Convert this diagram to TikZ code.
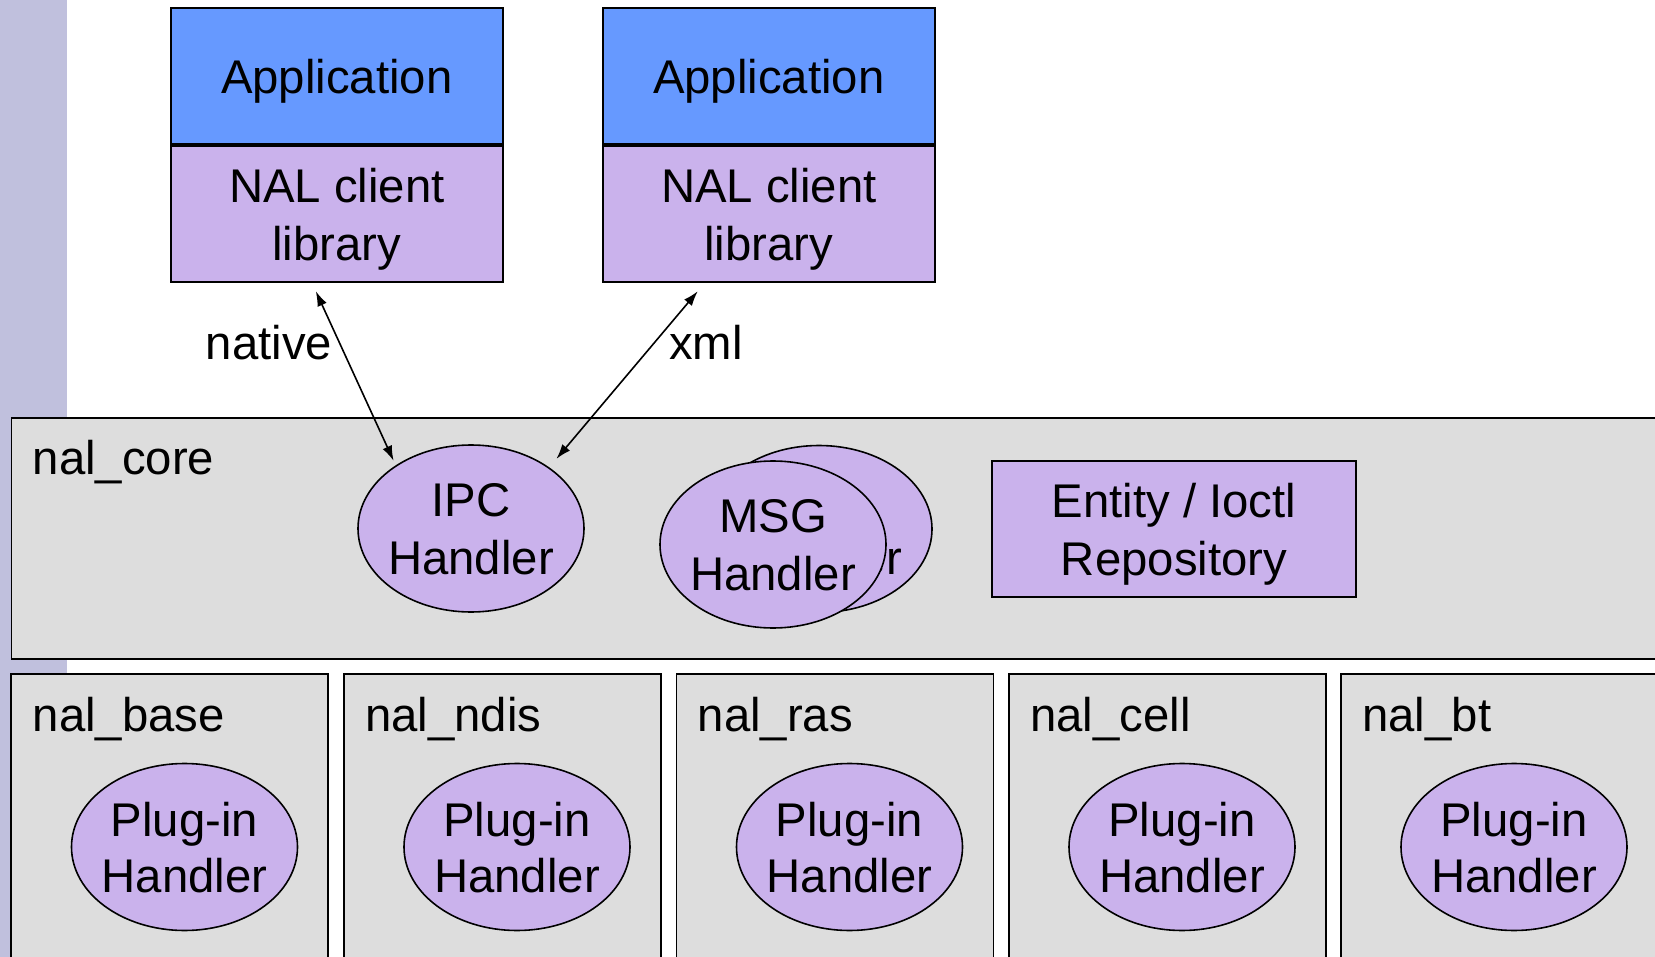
\documentclass[tikz,border=0pt]{standalone}
\usepackage{fontspec}
\setmainfont{Liberation Sans}
\usetikzlibrary{arrows.meta,calc,shapes.geometric}

\definecolor{appblue}{RGB}{102,153,255}
\definecolor{nalpurple}{RGB}{202,178,236}
\definecolor{coregray}{RGB}{221,221,221}
\definecolor{stripgray}{RGB}{192,192,221}

\tikzset{every picture/.style={line width=1.6pt}}
\tikzset{
  box/.style={draw, rectangle, inner sep=0pt, align=center, font=\fontsize{47.3}{58}\selectfont, text depth=0pt},
  layer/.style={draw, rectangle, fill=coregray, anchor=north west, inner sep=0pt},
  layerlabel/.style={anchor=base west, inner sep=0pt, font=\fontsize{47.3}{58}\selectfont},
  handler/.style={draw, ellipse, fill=nalpurple, minimum width=226pt, minimum height=167pt, inner sep=-12pt, text depth=-5pt, align=center, font=\fontsize{47.3}{58}\selectfont},
  plugin/.style={handler, font=\fontsize{47.3}{56}\selectfont},
  link/.style={{Latex[length=15pt,width=10pt]}-{Latex[length=15pt,width=10pt]}, line width=1.6pt},
}

\begin{document}
\begin{tikzpicture}[x=1pt,y=1pt,yscale=-1,xscale=1]
\useasboundingbox (0,0) rectangle (1655,957);
\clip (0,0) rectangle (1655,957);

%Shape: Rectangle (left strip)
\fill [stripgray] (0,0) rectangle (67,957);

%Shape: Rectangle
\node [box, fill=appblue, anchor=north west, minimum width=332pt, minimum height=136pt] (app1) at (170,7.5) {Application};
%Shape: Rectangle
\node [box, fill=nalpurple, anchor=north, minimum width=332pt, minimum height=136pt] (lib1) at (app1.south) {NAL client\\library};

%Shape: Rectangle
\node [box, fill=appblue, anchor=north west, minimum width=332pt, minimum height=136pt] (app2) at (602,7.5) {Application};
%Shape: Rectangle
\node [box, fill=nalpurple, anchor=north, minimum width=332pt, minimum height=136pt] (lib2) at (app2.south) {NAL client\\library};

%Shape: Rectangle
\node [layer, minimum width=1700pt, minimum height=241pt] (core) at (10.5,417) {};
% Text Node
\node [layerlabel] (corelbl) at (32,475) {nal\_core};

%Shape: Ellipse
\node [handler] (ipc) at (471,528.5) {IPC\\Handler};
%Shape: Ellipse
\node [handler] (msgback) at (819,529) {\phantom{MSG}\\Handler};
%Shape: Ellipse
\node [handler] (msg) at (773,544.5) {MSG\\Handler};
%Shape: Rectangle
\node [box, fill=nalpurple, minimum width=363.5pt, minimum height=136.5pt] (entity) at (1174,529) {Entity / Ioctl\\Repository};

%Shape: Rectangle
\node [layer, minimum width=317pt, minimum height=320pt] (base) at (10,673) {};
%Shape: Rectangle
\node [layer, minimum width=317pt, minimum height=320pt] (ndis) at (343,673) {};
%Shape: Rectangle
\node [layer, minimum width=317pt, minimum height=320pt] (ras) at (675.5,673) {};
%Shape: Rectangle
\node [layer, minimum width=317pt, minimum height=320pt] (cell) at (1008,673) {};
%Shape: Rectangle
\node [layer, minimum width=400pt, minimum height=320pt] (bt) at (1340,673) {};

% Text Node
\node [layerlabel] (baselbl) at (32,731) {nal\_base};
% Text Node
\node [layerlabel] (ndislbl) at (364.5,731) {nal\_ndis};
% Text Node
\node [layerlabel] (raslbl) at (697,731) {nal\_ras};
% Text Node
\node [layerlabel] (celllbl) at (1029.5,731) {nal\_cell};
% Text Node
\node [layerlabel] (btlbl) at (1361.5,731) {nal\_bt};

%Shape: Ellipse
\node [plugin] (baseplug) at (184.5,847) {Plug-in\\Handler};
%Shape: Ellipse
\node [plugin] (ndisplug) at (517,847) {Plug-in\\Handler};
%Shape: Ellipse
\node [plugin] (rasplug) at (849.5,847) {Plug-in\\Handler};
%Shape: Ellipse
\node [plugin] (cellplug) at (1182,847) {Plug-in\\Handler};
%Shape: Ellipse
\node [plugin] (btplug) at (1514,847) {Plug-in\\Handler};

%Straight Lines
\draw [link, shorten >=5pt] ($(lib1.south)+(-21,8.5)$) -- (ipc.140);
%Straight Lines
\draw [link, shorten >=11pt] ($(lib2.south)+(-71,8.5)$) -- (ipc.38);

% Text Node
\node [anchor=base, inner sep=0pt, font=\fontsize{47.3}{58}\selectfont] (nativelbl) at (269,360) {native};
% Text Node
\node [anchor=base, inner sep=0pt, font=\fontsize{47.3}{58}\selectfont] (xmllbl) at (706,360) {xml};

\end{tikzpicture}
\end{document}
